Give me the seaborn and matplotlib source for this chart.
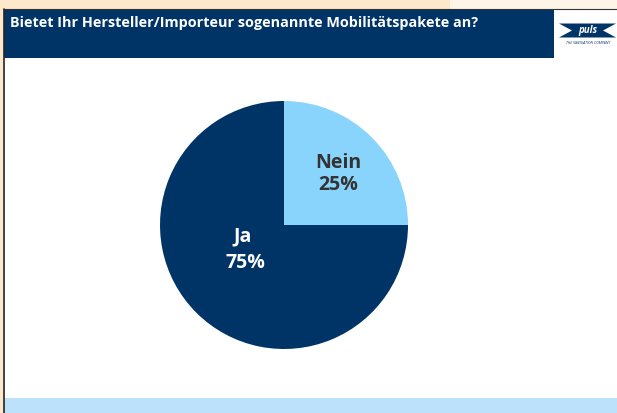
import matplotlib
matplotlib.use("Agg")
import matplotlib.pyplot as plt
from matplotlib.patches import Rectangle, Polygon
import seaborn as sns

# data
labels = ["Nein", "Ja"]
shares = [25, 75]
title = "Bietet Ihr Hersteller/Importeur sogenannte Mobilitätspakete an?"

navy = "#003466"
light = "#88D4FD"
colors = [light, navy]

sns.set_theme(style="white")
plt.rcParams["font.family"] = ["Open Sans", "DejaVu Sans"]

W, H = 617, 413
fig = plt.figure(figsize=(W / 100, H / 100), dpi=100)
fig.patch.set_facecolor("white")

# background / frame in pixel coordinates
bg = fig.add_axes([0, 0, 1, 1])
bg.set_xlim(0, W)
bg.set_ylim(H, 0)
bg.axis("off")
bg.add_patch(Rectangle((0, 0), 450, 9.5, color="#FDE8CC", lw=0))
bg.add_patch(Rectangle((450, 0), W - 450, 9.5, color="#FEF4E8", lw=0))
bg.add_patch(Rectangle((0, 0), 3.2, H, color="#FDE8CC", lw=0))
bg.add_patch(Rectangle((3.5, 9.5), 550, 48, color=navy, lw=0))
bg.add_patch(Rectangle((4, 398), W - 4, 15, color="#BBE1FB", lw=0))
bg.plot([3.7, 3.7], [9, H], color="#222222", lw=1.2)
bg.plot([3.5, W], [9.3, 9.3], color="#333333", lw=0.8)
bg.text(10, 22.5, title, color="white", fontsize=10.4, fontweight="bold",
        va="center", ha="left")

# logo
bg.add_patch(Polygon([(559, 23.5), (616, 23.5), (603, 30.5), (616, 37.5),
                      (559, 37.5), (572, 30.5)], closed=True, color=navy, lw=0))
bg.text(588, 30.5, "puls", color="white", fontsize=7, fontweight="bold",
        style="italic", ha="center", va="center")
bg.text(588, 43, "THE NAVIGATION COMPANY", color=navy, fontsize=2.6,
        style="italic", ha="center", va="center")

# pie
cx, cy, r = 284, 225, 124
ax = fig.add_axes([(cx - r) / W, (H - cy - r) / H, 2 * r / W, 2 * r / H])
ax.pie(shares, colors=colors, startangle=90, counterclock=False,
       wedgeprops=dict(linewidth=0))
ax.set_xlim(-1, 1)
ax.set_ylim(-1, 1)
ax.set_aspect("equal")
ax.axis("off")

ax.text(0.44, 0.50, labels[0], ha="center", va="center", fontsize=14,
        fontweight="bold", color="#333333")
ax.text(0.44, 0.32, f"{shares[0]}%", ha="center", va="center", fontsize=14,
        fontweight="bold", color="#333333")
ax.text(-0.33, -0.09, labels[1], ha="center", va="center", fontsize=14,
        fontweight="bold", color="white")
ax.text(-0.31, -0.31, f"{shares[1]}%", ha="center", va="center", fontsize=14,
        fontweight="bold", color="white")

fig.savefig("out.png", dpi=100)
